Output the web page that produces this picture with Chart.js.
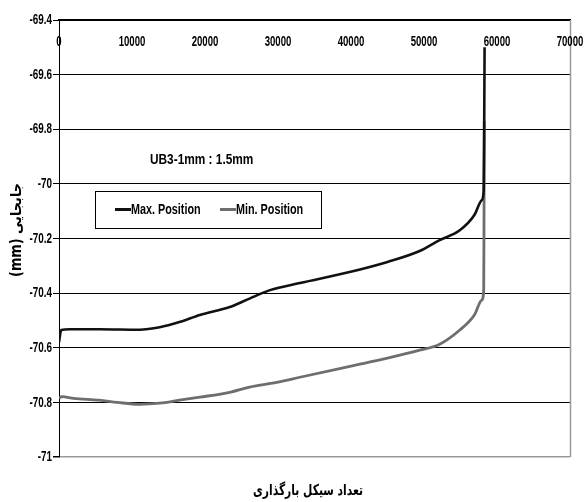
<!DOCTYPE html>
<html>
<head>
<meta charset="utf-8">
<script src="https://cdn.jsdelivr.net/npm/chart.js@4"></script>
<style>
  html, body { margin: 0; padding: 0; background: #fff; }
  #wrap { width: 585px; height: 502px; }
</style>
</head>
<body>
<div id="wrap"><canvas id="c" width="585" height="502"></canvas></div>
<script>
// ---- data ----
const xTickValues = [0, 10000, 20000, 30000, 40000, 50000, 60000, 70000];
const yTickValues = [-69.4, -69.6, -69.8, -70, -70.2, -70.4, -70.6, -70.8, -71];

const maxCycles   = [0, 300, 1500, 5500, 11000, 13800, 16500, 19300, 23400, 26100, 28900, 33000, 39800, 45000, 49400, 52150, 54900, 56900, 57900, 58180, 58250, 58300];
const maxPosition = [-70.58, -70.535, -70.532, -70.532, -70.534, -70.525, -70.506, -70.48, -70.451, -70.42, -70.389, -70.363, -70.323, -70.286, -70.246, -70.206, -70.17, -70.114, -70.06, -70.023, -69.766, -69.5];

const minCycles   = [0, 400, 2000, 5500, 8000, 11000, 13800, 16500, 19300, 23400, 26100, 30000, 33000, 40000, 45000, 49400, 52150, 54900, 56900, 57900, 58180, 58230, 58260];
const minPosition = [-70.785, -70.779, -70.785, -70.792, -70.8, -70.807, -70.803, -70.792, -70.781, -70.763, -70.744, -70.726, -70.708, -70.667, -70.638, -70.609, -70.587, -70.535, -70.48, -70.426, -70.389, -70.06, -69.77];

const seriesLabels = ['Max. Position', 'Min. Position'];
const chartNote = 'UB3-1mm : 1.5mm';
const xTitle = 'تعداد سیکل بارگذاری';
const yTitle = '(mm) جابجایی';

const FONT = "'Liberation Sans', Arial, sans-serif";
const FA_FONT = "'DejaVu Sans', 'Noto Sans', sans-serif";

const toPts = (xs, ys) => xs.map((x, i) => ({ x: x, y: ys[i] }));
const fmtX = v => String(v);
const fmtY = v => String(Math.round(v * 10) / 10);

// draw text horizontally condensed (the reference uses a tall, narrow bold face)
function condText(ctx, text, x, y, font, sx, align) {
  ctx.save();
  ctx.font = font;
  ctx.textAlign = align || 'left';
  ctx.textBaseline = 'middle';
  ctx.translate(x, y);
  ctx.scale(sx, 1);
  ctx.fillText(text, 0, 0);
  ctx.restore();
}
// draw text fitted to a given length
function fitText(ctx, text, x, y, font, len, rotate) {
  ctx.save();
  ctx.font = font;
  const w = ctx.measureText(text).width;
  ctx.textAlign = 'center';
  ctx.textBaseline = 'middle';
  ctx.translate(x, y);
  if (rotate) ctx.rotate(-Math.PI / 2);
  ctx.scale(len / w, 1);
  ctx.fillText(text, 0, 0);
  ctx.restore();
}

const decorPlugin = {
  id: 'decor',
  afterDraw(chart) {
    const { ctx, chartArea: a, scales } = chart;
    ctx.save();
    ctx.fillStyle = '#000';
    // right border of plot area (gray)
    ctx.strokeStyle = '#9a9a9a';
    ctx.lineWidth = 1.5;
    ctx.beginPath();
    ctx.moveTo(Math.round(a.right) + 0.5, a.top);
    ctx.lineTo(Math.round(a.right) + 0.5, a.bottom);
    ctx.stroke();

    const tickFont = "bold 15px " + FONT;
    // x tick labels (below the top axis line)
    scales.x.ticks.forEach(t => {
      condText(ctx, fmtX(t.value), scales.x.getPixelForValue(t.value), a.top + 22, tickFont, 0.64, 'center');
    });
    // y tick labels
    scales.y.ticks.forEach(t => {
      condText(ctx, fmtY(t.value), a.left - 7, scales.y.getPixelForValue(t.value), tickFont, 0.66, 'right');
    });

    // note text
    condText(ctx, chartNote, a.left + 91, a.top + 140, "bold 15px " + FONT, 0.79, 'left');

    // legend box
    const lx = a.left + 36, ly = a.top + 171, lw = 226, lh = 37;
    ctx.fillStyle = '#fff';
    ctx.fillRect(lx, ly, lw, lh);
    ctx.strokeStyle = '#000';
    ctx.lineWidth = 1;
    ctx.strokeRect(Math.round(lx) + 0.5, Math.round(ly) + 0.5, lw, lh);
    const ds = chart.data.datasets;
    const items = [{ x: lx + 20 }, { x: lx + 125 }];
    items.forEach((it, i) => {
      const cy = ly + lh / 2;
      ctx.strokeStyle = ds[i].borderColor;
      ctx.lineWidth = 3;
      ctx.beginPath();
      ctx.moveTo(it.x, cy);
      ctx.lineTo(it.x + 16, cy);
      ctx.stroke();
      ctx.fillStyle = '#000';
      condText(ctx, ds[i].label, it.x + 16, cy, "bold 15px " + FONT, 0.72, 'left');
    });

    // x title
    ctx.fillStyle = '#000';
    fitText(ctx, xTitle, 308, 491, "bold 15px " + FA_FONT, 110, false);
    // y title
    fitText(ctx, yTitle, 17, 230, "bold 15px " + FA_FONT, 94, true);
    ctx.restore();
  }
};

new Chart(document.getElementById('c'), {
  type: 'line',
  data: {
    datasets: [
      {
        label: seriesLabels[0],
        data: toPts(maxCycles, maxPosition),
        borderColor: '#111111',
        borderWidth: 2.6,
        pointRadius: 0,
        cubicInterpolationMode: 'monotone',
        order: 1
      },
      {
        label: seriesLabels[1],
        data: toPts(minCycles, minPosition),
        borderColor: '#6e6e6e',
        borderWidth: 2.8,
        pointRadius: 0,
        cubicInterpolationMode: 'monotone',
        order: 2
      }
    ]
  },
  options: {
    responsive: false,
    animation: false,
    layout: { padding: { top: 20, right: 15, bottom: 45, left: 0 } },
    plugins: { legend: { display: false }, tooltip: { enabled: false } },
    scales: {
      x: {
        type: 'linear',
        position: { y: -69.4 },
        min: xTickValues[0],
        max: xTickValues[xTickValues.length - 1],
        afterBuildTicks(scale) { scale.ticks = xTickValues.map(v => ({ value: v })); },
        ticks: { display: false, autoSkip: false },
        grid: { display: true, drawOnChartArea: false, drawTicks: false },
        border: { display: true, color: '#000', width: 1.5 }
      },
      y: {
        type: 'linear',
        position: 'left',
        min: -71,
        max: -69.4,
        afterBuildTicks(scale) { scale.ticks = yTickValues.slice().reverse().map(v => ({ value: v })); },
        afterFit(scale) { scale.width = 59; },
        ticks: { display: false, autoSkip: false },
        grid: {
          color: c => (c.tick && Math.abs(c.tick.value + 71) < 1e-6) ? '#9a9a9a' : '#000',
          lineWidth: c => (c.tick && Math.abs(c.tick.value + 71) < 1e-6) ? 1.5 : 1,
          tickColor: '#000',
          tickLength: 6
        },
        border: { display: true, color: '#000', width: 1 }
      }
    }
  },
  plugins: [decorPlugin]
});
</script>
</body>
</html>
